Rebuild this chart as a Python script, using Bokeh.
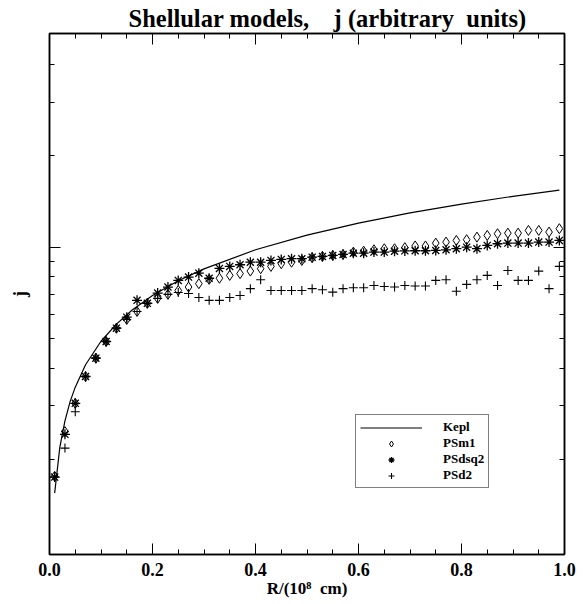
from bokeh.plotting import figure
from bokeh.models import (FixedTicker, LinearAxis, LogAxis, Legend, LegendItem,
                          Range1d, PrintfTickFormatter)
from bokeh.embed import file_html
from bokeh.resources import INLINE

# ---------------- data ----------------
r_pts = [0.01, 0.03, 0.05, 0.07, 0.09, 0.11, 0.13, 0.15, 0.17, 0.19,
         0.21, 0.23, 0.25, 0.27, 0.29, 0.31, 0.33, 0.35, 0.37, 0.39,
         0.41, 0.43, 0.45, 0.47, 0.49, 0.51, 0.53, 0.55, 0.57, 0.59,
         0.61, 0.63, 0.65, 0.67, 0.69, 0.71, 0.73, 0.75, 0.77, 0.79,
         0.81, 0.83, 0.85, 0.87, 0.89, 0.91, 0.93, 0.95, 0.97, 0.99]

j_psm1 = [0.176, 0.247, 0.306, 0.375, 0.431, 0.489, 0.541, 0.578, 0.614, 0.653,
          0.678, 0.699, 0.720, 0.739, 0.758, 0.783, 0.790, 0.807, 0.818, 0.834,
          0.849, 0.864, 0.882, 0.892, 0.904, 0.923, 0.932, 0.939, 0.946, 0.963,
          0.970, 0.980, 0.988, 0.988, 0.996, 1.009, 1.009, 1.031, 1.039, 1.052,
          1.058, 1.079, 1.093, 1.107, 1.112, 1.112, 1.135, 1.135, 1.121, 1.150]

j_psdsq2 = [0.175, 0.242, 0.306, 0.375, 0.431, 0.489, 0.541, 0.588, 0.668, 0.653,
            0.706, 0.739, 0.777, 0.797, 0.821, 0.790, 0.851, 0.864, 0.875, 0.892,
            0.892, 0.904, 0.911, 0.916, 0.916, 0.927, 0.932, 0.939, 0.946, 0.955,
            0.955, 0.963, 0.963, 0.970, 0.972, 0.973, 0.973, 0.975, 0.980, 0.988,
            1.000, 0.988, 1.013, 1.026, 1.031, 1.031, 1.031, 1.039, 1.039, 1.052]

j_psd2 = [0.175, 0.218, 0.287, 0.375, 0.431, 0.489, 0.541, 0.578, 0.614, 0.653,
          0.678, 0.699, 0.709, 0.704, 0.683, 0.668, 0.668, 0.683, 0.693, 0.730,
          0.781, 0.720, 0.720, 0.720, 0.720, 0.730, 0.724, 0.711, 0.730, 0.735,
          0.735, 0.748, 0.742, 0.739, 0.748, 0.745, 0.745, 0.777, 0.781, 0.716,
          0.754, 0.781, 0.807, 0.748, 0.838, 0.777, 0.777, 0.834, 0.730, 0.864]

r_kepl = [0.01, 0.02, 0.03, 0.04, 0.05, 0.07, 0.10, 0.13, 0.16, 0.20,
          0.25, 0.30, 0.40, 0.50, 0.60, 0.70, 0.80, 0.90, 0.99]
j_kepl = [0.155, 0.219, 0.268, 0.310, 0.346, 0.410, 0.490, 0.558, 0.620, 0.693,
          0.775, 0.848, 0.980, 1.095, 1.200, 1.296, 1.385, 1.470, 1.541]

x_major = [0.0, 0.2, 0.4, 0.6, 0.8, 1.0]
x_minor = [0.05, 0.1, 0.15, 0.25, 0.3, 0.35, 0.45, 0.5, 0.55,
           0.65, 0.7, 0.75, 0.85, 0.9, 0.95]
y_major = [1.0]
y_minor = [0.2, 0.3, 0.4, 0.5, 0.6, 0.7, 0.8, 0.9, 2.0, 3.0, 4.0]

title_text = "Shellular models,\u00a0\u00a0\u00a0 j (arbitrary\u00a0 units)"
x_label = "R/(10\u2078\u00a0 cm)"
y_label = "j"

FONT = "Liberation Serif"

p = figure(width=588, height=604,
           x_range=Range1d(0.0, 1.0), y_range=Range1d(0.0973, 5.05),
           y_axis_type="log", x_axis_location=None, y_axis_location=None,
           output_backend="svg", toolbar_location=None,
           min_border_left=49, min_border_right=24,
           min_border_top=33, min_border_bottom=50)
p.xgrid.visible = False
p.ygrid.visible = False
p.outline_line_color = "black"
p.outline_line_width = 1.5
p.background_fill_color = "white"
p.border_fill_color = "white"

# title
p.title.text = title_text
p.title.text_font = FONT
p.title.text_font_style = "bold"
p.title.text_font_size = "24.5px"
p.title.text_color = "black"
p.title.align = "left"
p.title.offset = 79
p.title.standoff = 3


def style_axis(ax, labels):
    ax.axis_line_color = "black"
    ax.axis_line_width = 1.5
    ax.major_tick_line_color = "black"
    ax.minor_tick_line_color = "black"
    ax.major_tick_line_width = 1
    ax.minor_tick_line_width = 1
    ax.major_tick_in = 11
    ax.major_tick_out = 0
    ax.minor_tick_in = 5
    ax.minor_tick_out = 0
    if not labels:
        ax.major_label_text_color = None


bx = LinearAxis(ticker=FixedTicker(ticks=x_major, minor_ticks=x_minor),
                formatter=PrintfTickFormatter(format="%.1f"))
style_axis(bx, True)
bx.major_label_text_font = FONT
bx.major_label_text_font_style = "bold"
bx.major_label_text_font_size = "18px"
bx.major_label_text_color = "black"
bx.major_label_standoff = 8
bx.axis_label = x_label
bx.axis_label_text_font = FONT
bx.axis_label_text_font_style = "bold"
bx.axis_label_text_font_size = "17px"
bx.axis_label_text_color = "black"
bx.axis_label_standoff = 0
p.add_layout(bx, "below")

tx = LinearAxis(ticker=FixedTicker(ticks=x_major, minor_ticks=x_minor))
style_axis(tx, False)
p.add_layout(tx, "above")

ly = LogAxis(ticker=FixedTicker(ticks=y_major, minor_ticks=y_minor))
style_axis(ly, False)
ly.axis_label = y_label
ly.axis_label_text_font = FONT
ly.axis_label_text_font_style = "bold"
ly.axis_label_text_font_size = "18px"
ly.axis_label_text_color = "black"
ly.axis_label_standoff = 20
p.add_layout(ly, "left")

ry = LogAxis(ticker=FixedTicker(ticks=y_major, minor_ticks=y_minor))
style_axis(ry, False)
p.add_layout(ry, "right")

# data
kepl = p.line(r_kepl, j_kepl, line_color="black", line_width=1.2)
m1 = p.scatter(r_pts, j_psm1, marker="diamond", size=10, fill_color=None,
               line_color="black", line_width=1)
dsq2 = p.scatter(r_pts, j_psdsq2, marker="asterisk", size=10,
                 line_color="black", line_width=1.3)
d2 = p.scatter(r_pts, j_psd2, marker="cross", size=9,
               line_color="black", line_width=1.1)

legend = Legend(items=[LegendItem(label="Kepl", renderers=[kepl]),
                       LegendItem(label="PSm1", renderers=[m1]),
                       LegendItem(label="PSdsq2", renderers=[dsq2]),
                       LegendItem(label="PSd2", renderers=[d2])],
                location=(306, 66))
legend.glyph_width = 62
legend.glyph_height = 15
legend.label_height = 15
legend.label_standoff = 21
legend.spacing = 0
legend.padding = 4
legend.margin = 0
legend.border_line_color = "black"
legend.border_line_width = 1
legend.background_fill_color = "white"
legend.background_fill_alpha = 1
legend.label_text_font = FONT
legend.label_text_font_style = "bold"
legend.label_text_font_size = "13px"
legend.label_text_color = "black"
legend.label_text_line_height = 1.0
p.add_layout(legend, "center")

open("out.html", "w").write(file_html(p, INLINE))
